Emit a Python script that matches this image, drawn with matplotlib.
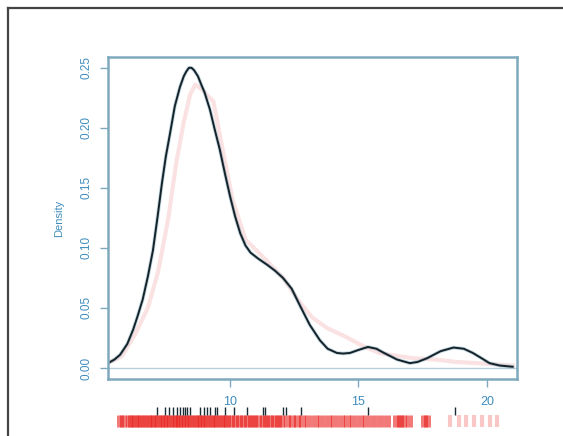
import matplotlib
matplotlib.use("Agg")
import matplotlib.pyplot as plt
from matplotlib.lines import Line2D

plt.rcParams['font.family'] = ['Liberation Sans', 'DejaVu Sans']

# density estimate (black)
dens_x = [5.25, 5.5, 5.72, 6.0, 6.23, 6.4, 6.6, 6.8, 7.0, 7.18, 7.35, 7.5, 7.67, 7.85,
          8.05, 8.2, 8.3, 8.4, 8.5, 8.6, 8.75, 8.9, 9.0, 9.22, 9.4, 9.6, 9.8, 10.0,
          10.2, 10.4, 10.6, 10.8, 11.1, 11.44, 11.75, 12.06, 12.4, 12.72, 13.1, 13.5,
          13.8, 14.16, 14.4, 14.67, 15.0, 15.37, 15.7, 15.95, 16.5, 17.0, 17.3,
          17.66, 18.2, 18.7, 19.1, 19.45, 19.8, 20.1, 20.5, 21.0]
dens_y = [0.004, 0.007, 0.011, 0.02, 0.032, 0.043, 0.057, 0.076, 0.098, 0.126, 0.154,
          0.176, 0.196, 0.218, 0.234, 0.243, 0.247, 0.25, 0.25, 0.248, 0.243, 0.235,
          0.23, 0.215, 0.199, 0.182, 0.162, 0.143, 0.126, 0.112, 0.102, 0.096, 0.091,
          0.086, 0.081, 0.075, 0.066, 0.052, 0.036, 0.023, 0.016, 0.0125, 0.012,
          0.0125, 0.015, 0.0175, 0.016, 0.013, 0.007, 0.004, 0.005, 0.008, 0.014,
          0.017, 0.016, 0.0125, 0.008, 0.004, 0.002, 0.001]

# faint pink curve
pink_x = [5.25, 5.8, 6.3, 6.8, 7.2, 7.6, 7.9, 8.2, 8.45, 8.65, 8.9, 9.35, 9.73, 10.1,
          10.6, 11.4, 12.1, 12.7, 13.2, 13.8, 14.5, 15.2, 15.8, 16.5, 17.2, 18.0,
          18.8, 19.6, 20.4, 21.0]
pink_y = [0.004, 0.01, 0.028, 0.05, 0.08, 0.125, 0.17, 0.205, 0.228, 0.236, 0.232,
          0.222, 0.18, 0.14, 0.107, 0.09, 0.074, 0.055, 0.042, 0.033, 0.026, 0.018,
          0.0125, 0.01, 0.008, 0.007, 0.005, 0.004, 0.003, 0.002]

# rug of observations
black_rug = [7.15, 7.47, 7.63, 7.79, 7.92, 8.05, 8.15, 8.25, 8.33, 8.44, 8.83, 8.99,
             9.11, 9.22, 9.42, 9.48, 9.81, 10.16, 10.67, 11.3, 11.36, 12.07, 12.18,
             12.76, 15.38, 18.75]
red_rug = [5.7, 5.85, 6.05, 6.15, 6.3, 6.42, 6.55, 6.7, 6.8, 6.95, 7.05, 7.2, 7.3,
           7.42, 7.55, 7.68, 7.8, 7.9, 8.02, 8.12, 8.25, 8.36, 8.5, 8.62, 8.75, 8.88,
           9.0, 9.12, 9.25, 9.38, 9.5, 9.63, 9.77, 9.9, 10.05, 10.2, 10.35, 10.5,
           10.66, 10.8, 10.95, 11.1, 11.27, 11.4, 11.55, 11.7, 11.86, 12.0, 12.2,
           12.4, 12.6, 12.8, 13.05, 13.3, 13.55, 13.8, 14.05, 14.3, 14.55, 14.8,
           15.05, 15.3, 15.55, 15.85, 16.1, 16.45, 16.6, 16.75, 16.95, 17.55, 17.65]
red_rug_far = [18.55, 18.9, 19.2, 19.5, 19.8, 20.1, 20.4]

y_ticks = [0.00, 0.05, 0.10, 0.15, 0.20, 0.25]
y_labels = ["0.00", "0.05", "0.10", "0.15", "0.20", "0.25"]
x_ticks = [10, 15, 20]
x_labels = ["10", "15", "20"]

W, H = 563, 436
blue = "#3f8dbd"
frame = "#7fa9bd"

fig = plt.figure(figsize=(W / 100, H / 100), dpi=100)

# outer frame (top and left edges visible)
fig.add_artist(Line2D([8 / W, 1.0], [1 - 8 / H, 1 - 8 / H], color="#444444", lw=1.6))
fig.add_artist(Line2D([8 / W, 8 / W], [0.0, 1 - 8 / H], color="#444444", lw=1.6))

ax = fig.add_axes([108 / W, 1 - 379 / H, (517 - 108) / W, (379 - 57) / H])
ax.set_xlim(5.25, 21.17)
ax.set_ylim(-0.0092, 0.259)

ax.axhline(0, color="#b9cfd9", lw=1.0)
ax.plot(pink_x, pink_y, color="#f2a0a0", lw=3.0, alpha=0.3)
ax.plot(dens_x, dens_y, color="#3b7f99", lw=2.6, alpha=0.3)
ax.plot(dens_x, dens_y, color="#152229", lw=1.4)

for s in ax.spines.values():
    s.set_color(frame)
    s.set_linewidth(1.8)

ax.set_yticks(y_ticks)
ax.set_yticklabels(y_labels, rotation=90, va="center", fontsize=8.5)
ax.set_xticks(x_ticks)
ax.set_xticklabels([])
ax.tick_params(axis="both", colors=frame, labelcolor=blue, length=6, width=1.0, pad=5)
ax.set_ylabel("Density", fontsize=8, color=blue, labelpad=12)

# rug strip below the axes
rug = fig.add_axes([108 / W, 1 - 428 / H, (517 - 108) / W, 23 / H], sharex=ax)
rug.set_ylim(0, 1)
rug.axis("off")
rug.vlines(red_rug, 0.05, 0.56, color="#e8201c", lw=5.0, alpha=0.6)
rug.vlines(red_rug_far, 0.05, 0.56, color="#e8201c", lw=3.0, alpha=0.25)
rug.vlines(black_rug, 0.56, 0.92, color="#1c2a33", lw=1.0)
for xt, lab in zip(x_ticks, x_labels):
    rug.text(xt, 1.13, lab, ha="center", va="center", fontsize=9, color=blue)

fig.savefig("out.png", dpi=100)
